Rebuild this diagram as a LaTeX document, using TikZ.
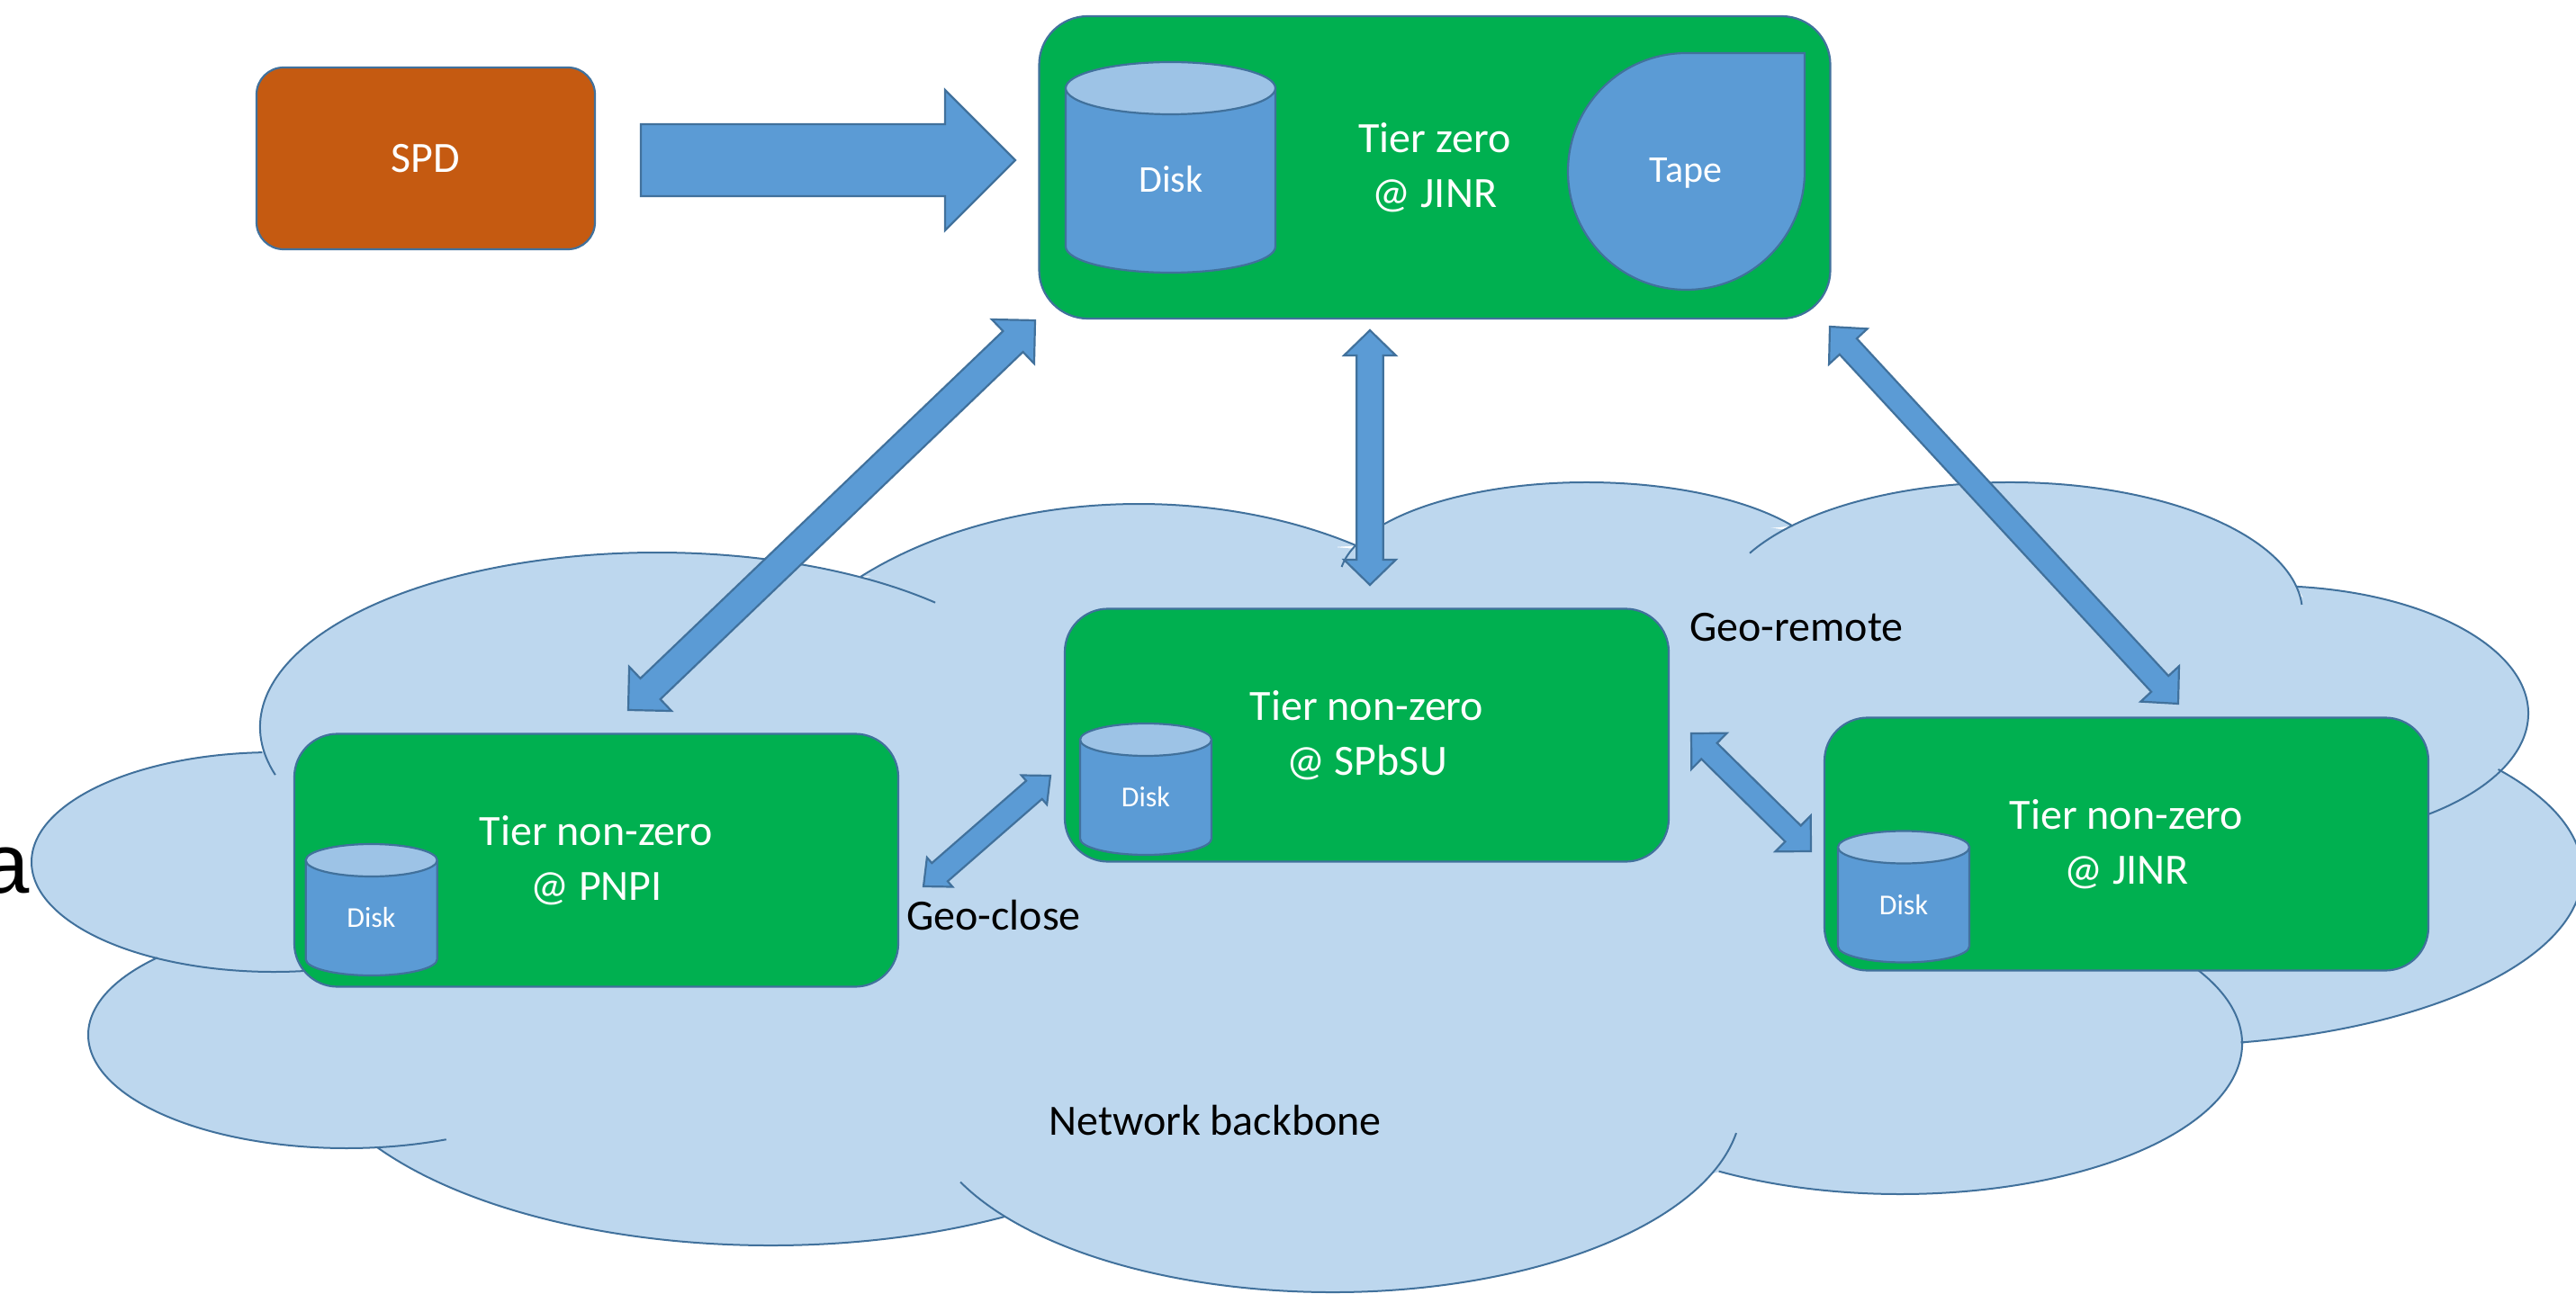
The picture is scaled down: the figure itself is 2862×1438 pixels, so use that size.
\documentclass[tikz,border=0pt]{standalone}
\usepackage{fontspec}
\setmainfont{Carlito}
\newfontfamily\arialfont{Liberation Sans}
\usetikzlibrary{calc}
\definecolor{cloudfill}{HTML}{BDD7EE}
\definecolor{edgeblue}{HTML}{41719C}
\definecolor{tiergreen}{HTML}{00B050}
\definecolor{fillblue}{HTML}{5B9BD5}
\definecolor{lidblue}{HTML}{9DC3E6}
\definecolor{spdorange}{HTML}{C55A11}
\tikzset{
  lobefill/.style={fill=cloudfill,draw=none},
  lobeline/.style={draw=edgeblue,line width=1pt,fill=none},
  tierbox/.style={rectangle,fill=tiergreen,draw=edgeblue,line width=1.1pt,text=white,align=center,inner sep=0pt,outer sep=0pt,font=\fontsize{24}{30.5}\selectfont},
  bigtier/.style={tierbox,rounded corners=27pt,minimum width=439.5pt,minimum height=168pt},
  smalltier/.style={tierbox,rounded corners=24pt,minimum width=335.5pt,minimum height=140.5pt},
  spdbox/.style={rectangle,rounded corners=15pt,fill=spdorange,draw=edgeblue,line width=1.1pt,text=white,inner sep=0pt,minimum width=188pt,minimum height=101pt,font=\fontsize{24}{28}\selectfont},
  blockarrow/.style={fill=fillblue,draw=edgeblue,line width=1.1pt,line join=miter},
  diskbody/.style={fill=fillblue,draw=edgeblue,line width=1.1pt},
  disklid/.style={fill=lidblue,draw=edgeblue,line width=1.1pt},
  bigdisk/.style={text=white,inner sep=0pt,font=\fontsize{21}{25}\selectfont},
  smalldisk/.style={text=white,inner sep=0pt,font=\fontsize{16}{19}\selectfont},
  plainlabel/.style={text=black,inner sep=0pt,font=\fontsize{24}{28}\selectfont},
}
% centre x/centre y/radius x/radius y/start/end of each arc of the cloud
\newcommand\lobelist{304/958/269/122/267.3/83,
  730/808/441/194/164.1/314.5,
  385/1150/287/126/222.9/67.3,
  856/1146/520/238/147.2/59.9,
  1265/841/440/281/225.4/303.4,
  1763/645/275/109/187.9/326.3,
  2233/681/325/145/207.2/356.4,
  2520/793/289/142/276.3/411.8,
  2400/970/469/192/-36.8/79,
  2111/1160/380/167/-30/122,
  1480/1225/455/211/9.3/155.2}
% #1,#2 tips, #3 half shaft, #4 half head, #5 head length
\newcommand\blockarrowpath[5]{%
  \draw[blockarrow] (#1)
    -- ($(#1)!#5!(#2)!#4!90:(#2)$) -- ($(#1)!#5!(#2)!#3!90:(#2)$)
    -- ($(#2)!#5!(#1)!#3!-90:(#1)$) -- ($(#2)!#5!(#1)!#4!-90:(#1)$)
    -- (#2)
    -- ($(#2)!#5!(#1)!#4!90:(#1)$) -- ($(#2)!#5!(#1)!#3!90:(#1)$)
    -- ($(#1)!#5!(#2)!#3!-90:(#2)$) -- ($(#1)!#5!(#2)!#4!-90:(#2)$)
    -- cycle;}
\newcommand\singlearrowpath[5]{%
  \draw[blockarrow] (#2)
    -- ($(#2)!#5!(#1)!#4!90:(#1)$) -- ($(#2)!#5!(#1)!#3!90:(#1)$)
    -- ($(#1)!#3!-90:(#2)$) -- ($(#1)!#3!90:(#2)$)
    -- ($(#2)!#5!(#1)!#3!-90:(#1)$) -- ($(#2)!#5!(#1)!#4!-90:(#1)$)
    -- cycle;}
% #1 cx, #2 top, #3 bottom, #4 rx, #5 ry
\newcommand\diskshape[5]{%
  \draw[diskbody] (#1-#4,#2+#5) -- (#1-#4,#3-#5) arc[start angle=180,end angle=360,x radius=#4,y radius=-#5] -- (#1+#4,#2+#5) -- cycle;
  \draw[disklid] (#1,#2+#5) ellipse[x radius=#4,y radius=#5];}
\begin{document}
\begin{tikzpicture}[x=0.5pt,y=-0.5pt]
\useasboundingbox (0,0) rectangle (2862,1438);
\clip (0,0) rectangle (2862,1438);
% cloud
\fill[lobefill] (291,836) -- (700,650) -- (956,645) -- (1040,610) -- (1265,590) -- (1507,610) -- (1763,560) -- (1994,590) -- (2233,560) -- (2552,660) -- (2750,780) -- (2779,854) -- (2750,1000) -- (2491,1161) -- (2260,1290) -- (1910,1302) -- (1510,1420) -- (1117,1352) -- (856,1370) -- (419,1275) -- (300,1240) -- (179,1120) -- (179,1066) -- (100,960) -- cycle;
\foreach \cx/\cy/\rx/\ry/\ta/\tb in \lobelist {
  \fill[lobefill] ({\cx+\rx*cos(\ta)},{\cy+\ry*sin(\ta)}) arc[start angle=\ta,end angle=\tb,x radius=\rx,y radius=\ry] -- cycle;
}
\foreach \cx/\cy/\rx/\ry/\ta/\tb in \lobelist {
  \draw[lobeline] ({\cx+\rx*cos(\ta)},{\cy+\ry*sin(\ta)}) arc[start angle=\ta,end angle=\tb,x radius=\rx,y radius=\ry];
}
% stray letter, cut off by the left edge
\node[anchor=base east,inner sep=0pt,text=black,font=\arialfont\fontsize{47}{56}\selectfont] (stray) at (33,992) {a};
% boxes
\node[bigtier] (tierzero) at (1594,186) {Tier zero\\@ JINR};
\node[smalltier] (pnpi) at (662.5,956) {Tier non-zero\\@ PNPI};
\node[smalltier] (spbsu) at (1518.5,817) {Tier non-zero\\@ SPbSU};
\node[smalltier] (jinr) at (2362.5,938) {Tier non-zero\\@ JINR};
\node[spdbox] (spd) at (473,176) {SPD};
% arrows
\coordinate (spdout) at (712,178);
\coordinate (zeroin) at (1128,178);
\singlearrowpath{spdout}{zeroin}{20pt}{39pt}{39pt}
\coordinate (aone) at (1150,356); \coordinate (atwo) at (698,789);
\blockarrowpath{aone}{atwo}{8pt}{17pt}{17pt}
\coordinate (bone) at (1522,367); \coordinate (btwo) at (1522,650);
\blockarrowpath{bone}{btwo}{7.4pt}{14.4pt}{14pt}
\coordinate (cone) at (2033,363); \coordinate (ctwo) at (2420,782);
\blockarrowpath{cone}{ctwo}{6.5pt}{14.5pt}{15pt}
\coordinate (done) at (1026,985); \coordinate (dtwo) at (1167,862);
\blockarrowpath{done}{dtwo}{6.7pt}{10.8pt}{12pt}
\coordinate (eone) at (1879,815); \coordinate (etwo) at (2012,946);
\blockarrowpath{eone}{etwo}{6.2pt}{14pt}{14pt}
% disks
\diskshape{1300.5}{69}{303}{116.5}{29}
\node[bigdisk] (diskzero) at (1301,199) {Disk};
\draw[diskbody] (1873.5,59) -- (2005,59) -- (2005,190.5) arc[start angle=0,end angle=270,radius=131.5] -- cycle;
\node[bigdisk] (tape) at (1873,192) {Tape};
\diskshape{412.7}{938}{1084}{73}{18}
\node[smalldisk] (diskp) at (412.5,1019) {Disk};
\diskshape{1273}{804}{950}{73}{18}
\node[smalldisk] (disks) at (1273,886) {Disk};
\diskshape{2115}{923.5}{1069.5}{73}{18}
\node[smalldisk] (diskj) at (2115,1005.5) {Disk};
% labels
\node[plainlabel] (georemote) at (1996,697) {Geo-remote};
\node[plainlabel] (geoclose) at (1104,1017) {Geo-close};
\node[plainlabel] (backbone) at (1350,1245) {Network backbone};
\end{tikzpicture}
\end{document}
